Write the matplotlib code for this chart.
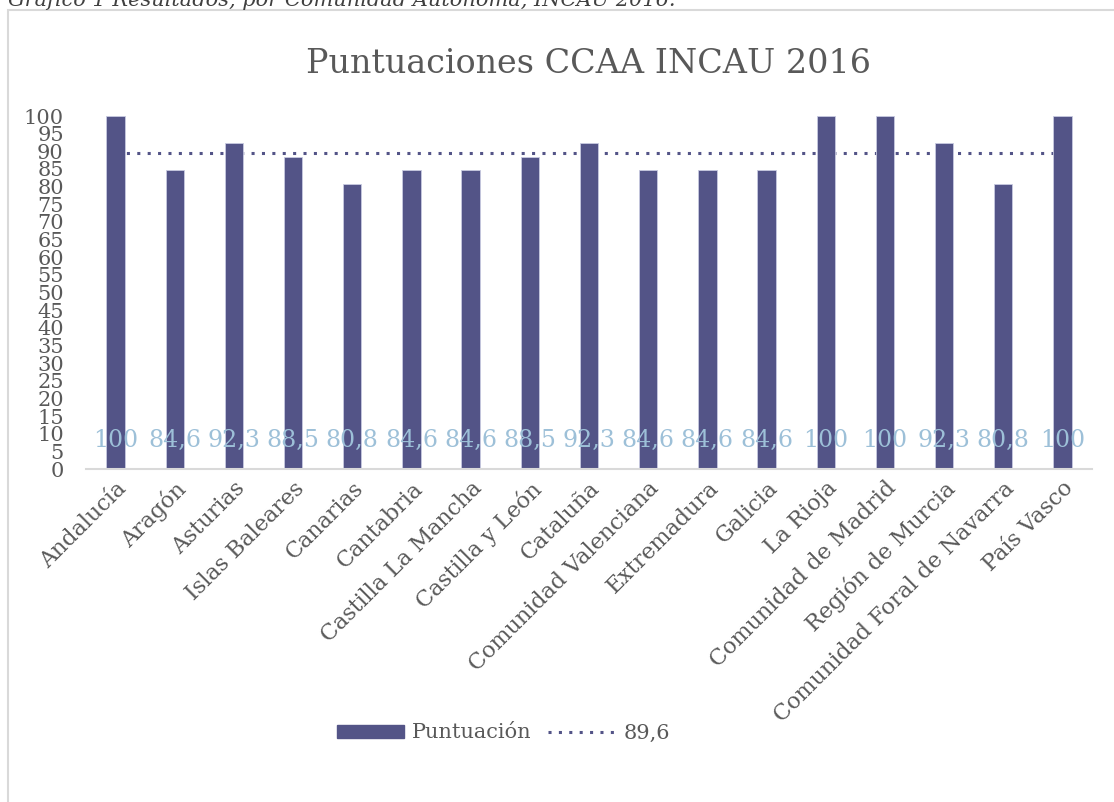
import matplotlib.pyplot as plt
import matplotlib.patches as mpatches
from matplotlib.lines import Line2D

comunidades = ['Andalucía', 'Aragón', 'Asturias', 'Islas Baleares', 'Canarias',
               'Cantabria', 'Castilla La Mancha', 'Castilla y León', 'Cataluña',
               'Comunidad Valenciana', 'Extremadura', 'Galicia', 'La Rioja',
               'Comunidad de Madrid', 'Región de Murcia',
               'Comunidad Foral de Navarra', 'País Vasco']
puntuacion = [100, 84.6, 92.3, 88.5, 80.8, 84.6, 84.6, 88.5, 92.3,
              84.6, 84.6, 84.6, 100, 100, 92.3, 80.8, 100]
media = 89.6
yticks = list(range(0, 101, 5))

bar_color = '#535487'
label_color = '#9dc0d8'
text_color = '#595959'
plt.rcParams['font.family'] = ['DejaVu Serif']

fig = plt.figure(figsize=(11.14, 8.02), dpi=100)

# marco del grafico
fig.add_artist(mpatches.Rectangle((8/1114, -0.1), 1.2, 1.0875, transform=fig.transFigure,
                                  fill=False, edgecolor='#d9d9d9', linewidth=1.5))
fig.text(8/1114, 1.0, 'Gráfico 1 Resultados, por Comunidad Autónoma, INCAU 2016.',
         fontsize=15, style='italic', color='#404040', va='center', ha='left')

ax = fig.add_axes([86/1114, 1 - 469/802, 1006/1114, 353/802])

x = list(range(len(comunidades)))
ax.plot(x, [media] * len(x), linestyle=(0, (1, 2.4)), color=bar_color, linewidth=2.2, zorder=1)
ax.bar(x, puntuacion, width=0.31, color=bar_color, edgecolor='#c8cae0', linewidth=0.6, zorder=2)

for xi, v in zip(x, puntuacion):
    s = ('%.1f' % v).replace('.', ',') if v != 100 else '100'
    ax.text(xi, 8, s, ha='center', va='center', fontsize=17, color=label_color, zorder=3)

ax.set_xlim(-0.5, len(x) - 0.5)
ax.set_ylim(0, 100)
ax.set_yticks(yticks)
ax.set_yticklabels([str(t) for t in yticks], fontsize=15, color=text_color)
ax.tick_params(axis='y', length=0, pad=16)
ax.set_xticks(x)
ax.set_xticklabels(comunidades, rotation=45, ha='right', rotation_mode='anchor',
                   fontsize=16, color=text_color)
ax.tick_params(axis='x', length=0, pad=6)

for s in ['top', 'right', 'left']:
    ax.spines[s].set_visible(False)
ax.spines['bottom'].set_color('#d9d9d9')
ax.spines['bottom'].set_linewidth(1.5)

ax.set_title('Puntuaciones CCAA INCAU 2016', fontsize=24, color=text_color, pad=31)

handles = [mpatches.Patch(color=bar_color, label='Puntuación'),
           Line2D([0], [0], linestyle=(0, (1, 2.4)), color=bar_color, linewidth=2.2, label='89,6')]
fig.legend(handles=handles, loc='center', bbox_to_anchor=(0.452, 1 - 733/802), ncol=2,
           frameon=False, fontsize=15, labelcolor=text_color, handlelength=3.2,
           handleheight=0.6, columnspacing=0.8, handletextpad=0.4)

fig.savefig('out.png', dpi=100)
